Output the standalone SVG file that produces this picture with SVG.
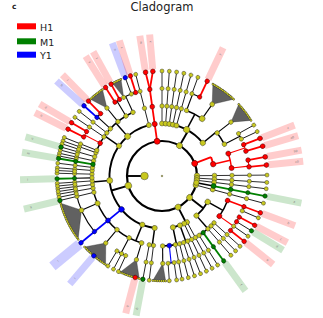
<svg xmlns="http://www.w3.org/2000/svg" width="323" height="318" viewBox="0 0 323 318">
<style>
text{font-family:"DejaVu Sans","Liberation Sans",sans-serif;fill:#222}
.y{fill:#c8c81e;stroke:#333;stroke-width:.45}
.r{fill:#f00;stroke:#300;stroke-width:.45}
.g{fill:#008000;stroke:#002000;stroke-width:.45}
.b{fill:#00f;stroke:#000030;stroke-width:.45}
line{stroke:#000;stroke-width:.8}
.arc{fill:none;stroke:#000}
.w1{stroke-width:2.2}.w2{stroke-width:1.9}.w3{stroke-width:1.5}.w4{stroke-width:1.1}.wc{stroke-width:1.8}
.rl{stroke:#f00}.gl{stroke:#008000}.bl{stroke:#00f}
.pr{fill:#f00;fill-opacity:.2}.pg{fill:#008000;fill-opacity:.2}.pb{fill:#00f;fill-opacity:.2}
.lb{font-size:3px;fill:#777}
.fan{fill:#3a3a3a;fill-opacity:.8;stroke:#222;stroke-width:.3}
.dd{fill:none;stroke:#333;stroke-width:2.5;stroke-linecap:round}
.dy{fill:none;stroke:#c8c81e;stroke-width:1.8;stroke-linecap:round}
</style>
<defs>
<g id="k1"><line x1="35" x2="105"/><circle class="y" cx="35" r="2.7"/><circle class="y" cx="52.5" r="2.4"/><circle class="y" cx="70" r="2.2"/><circle class="y" cx="87.5" r="2.1"/><circle class="y" cx="105" r="2"/></g>
<g id="k2"><line x1="52.5" x2="105"/><circle class="y" cx="52.5" r="2.5"/><circle class="y" cx="70" r="2.2"/><circle class="y" cx="87.5" r="2.1"/><circle class="y" cx="105" r="2"/></g>
<g id="k3"><line x1="70" x2="105"/><circle class="y" cx="70" r="2.2"/><circle class="y" cx="87.5" r="2.1"/><circle class="y" cx="105" r="2"/></g>
<g id="k4"><line x1="87.5" x2="105"/><circle class="y" cx="87.5" r="2.1"/><circle class="y" cx="105" r="2"/></g>
</defs>
<rect width="323" height="318" fill="#fff"/>
<text x="12" y="8.5" font-size="7.5" font-weight="bold">c</text>
<text x="162" y="10.5" font-size="11.5" text-anchor="middle">Cladogram</text>
<g id="legend">
<rect x="17" y="23.3" width="19" height="6" fill="#f00"/><text x="40" y="30.5" font-size="9.5">H1</text>
<rect x="17" y="38.3" width="19" height="6" fill="#008000"/><text x="40" y="45.5" font-size="9.5">M1</text>
<rect x="17" y="51.7" width="19" height="6" fill="#00f"/><text x="40" y="59" font-size="9.5">Y1</text>
</g>
<g transform="translate(162,176)">
<g id="shading">
<rect class="pg" x="107" y="-3.5" width="35" height="7" transform="rotate(11)"/><text class="lb" x="134" y="1" transform="rotate(11)">a</text>
<rect class="pr" x="107" y="-3.5" width="35" height="7" transform="rotate(20.5)"/><text class="lb" x="134" y="1" transform="rotate(20.5)">b</text>
<rect class="pr" x="107" y="-3.5" width="35" height="7" transform="rotate(28)"/><text class="lb" x="134" y="1" transform="rotate(28)">c</text>
<rect class="pg" x="107" y="-3.5" width="35" height="7" transform="rotate(31.5)"/><text class="lb" x="134" y="1" transform="rotate(31.5)">d</text>
<rect class="pr" x="107" y="-3.5" width="35" height="7" transform="rotate(38.5)"/><text class="lb" x="134" y="1" transform="rotate(38.5)">e</text>
<rect class="pg" x="107" y="-3.5" width="35" height="7" transform="rotate(54)"/><text class="lb" x="134" y="1" transform="rotate(54)">f</text>
<rect class="pg" x="107" y="-3.5" width="35" height="7" transform="rotate(100.5)"/><text class="lb" x="134" y="1" transform="rotate(100.5)">g</text>
<rect class="pr" x="107" y="-3.5" width="35" height="7" transform="rotate(104.8)"/><text class="lb" x="134" y="1" transform="rotate(104.8)">h</text>
<rect class="pb" x="107" y="-3.5" width="35" height="7" transform="rotate(130.5)"/><text class="lb" x="134" y="1" transform="rotate(130.5)">i</text>
<rect class="pb" x="107" y="-5" width="35" height="10" transform="rotate(140.5)"/><text class="lb" x="134" y="1" transform="rotate(140.5)">j</text>
<rect class="pg" x="107" y="-3.5" width="35" height="7" transform="rotate(166.5)"/><text class="lb" x="134" y="1" transform="rotate(166.5)">k</text>
<rect class="pg" x="107" y="-3.5" width="35" height="7" transform="rotate(178.5)"/><text class="lb" x="134" y="1" transform="rotate(178.5)">l</text>
<rect class="pg" x="107" y="-3.5" width="35" height="7" transform="rotate(189.6)"/><text class="lb" x="134" y="1" transform="rotate(189.6)">m</text>
<rect class="pg" x="107" y="-3.5" width="35" height="7" transform="rotate(196)"/><text class="lb" x="134" y="1" transform="rotate(196)">n</text>
<rect class="pr" x="107" y="-3.5" width="35" height="7" transform="rotate(206.5)"/><text class="lb" x="134" y="1" transform="rotate(206.5)">o</text>
<rect class="pr" x="107" y="-3.5" width="35" height="7" transform="rotate(210.5)"/><text class="lb" x="134" y="1" transform="rotate(210.5)">p</text>
<rect class="pb" x="107" y="-3.5" width="35" height="7" transform="rotate(222)"/><text class="lb" x="134" y="1" transform="rotate(222)">q</text>
<rect class="pr" x="107" y="-3.5" width="35" height="7" transform="rotate(225.5)"/><text class="lb" x="134" y="1" transform="rotate(225.5)">r</text>
<rect class="pr" x="107" y="-3.5" width="35" height="7" transform="rotate(237.5)"/><text class="lb" x="134" y="1" transform="rotate(237.5)">s</text>
<rect class="pr" x="107" y="-3.5" width="35" height="7" transform="rotate(241)"/><text class="lb" x="134" y="1" transform="rotate(241)">t</text>
<rect class="pb" x="107" y="-3.5" width="35" height="7" transform="rotate(249.5)"/><text class="lb" x="134" y="1" transform="rotate(249.5)">u</text>
<rect class="pr" x="107" y="-3.5" width="35" height="7" transform="rotate(252.5)"/><text class="lb" x="134" y="1" transform="rotate(252.5)">v</text>
<rect class="pr" x="107" y="-3.5" width="35" height="7" transform="rotate(261)"/><text class="lb" x="134" y="1" transform="rotate(261)">w</text>
<rect class="pr" x="107" y="-3.5" width="35" height="7" transform="rotate(265)"/><text class="lb" x="134" y="1" transform="rotate(265)">x</text>
<rect class="pr" x="107" y="-3.5" width="35" height="7" transform="rotate(295.5)"/><text class="lb" x="134" y="1" transform="rotate(295.5)">y</text>
<rect class="pr" x="107" y="-3.5" width="35" height="7" transform="rotate(339)"/><text class="lb" x="134" y="1" transform="rotate(339)">z</text>
<rect class="pr" x="107" y="-3.5" width="35" height="7" transform="rotate(343.5)"/><text class="lb" x="134" y="1" transform="rotate(343.5)">a0</text>
<rect class="pr" x="107" y="-3.5" width="35" height="7" transform="rotate(349.5)"/><text class="lb" x="134" y="1" transform="rotate(349.5)">b0</text>
<rect class="pr" x="107" y="-3.5" width="35" height="7" transform="rotate(354)"/><text class="lb" x="134" y="1" transform="rotate(354)">c0</text>
</g>
<g id="connectors">
<circle class="arc w1" r="35"/>
<circle class="arc w2" r="52.5" pathLength="360" stroke-dasharray="157.5 400" transform="rotate(98)"/>
<circle class="arc w2" r="52.5" pathLength="360" stroke-dasharray="51 400" transform="rotate(270)"/>
<circle class="arc w2" r="52.5" pathLength="360" stroke-dasharray="19.5 400" transform="rotate(29.5)"/>
<circle class="arc w2" r="52.5" pathLength="360" stroke-dasharray="16.5 400" transform="rotate(61.5)"/>
<circle class="arc w2 rl" r="52.5" pathLength="360" stroke-dasharray="8 400" transform="rotate(339)"/>
<circle class="arc w3" r="70" pathLength="360" stroke-dasharray="3.5 400" transform="rotate(97)"/>
<circle class="arc w3" r="70" pathLength="360" stroke-dasharray="138.5 400" transform="rotate(107)"/>
<circle class="arc w3" r="70" pathLength="360" stroke-dasharray="14.5 400" transform="rotate(290.5)"/>
<circle class="arc w3" r="70" pathLength="360" stroke-dasharray="12 400" transform="rotate(321)"/>
<circle class="arc w3" r="70" pathLength="360" stroke-dasharray="14.5 400" transform="rotate(20.5)"/>
<circle class="arc w3" r="70" pathLength="360" stroke-dasharray="16 400" transform="rotate(42)"/>
<circle class="arc w3" r="70" pathLength="360" stroke-dasharray="3.5 400" transform="rotate(68.5)"/>
<circle class="arc w3" r="70" pathLength="360" stroke-dasharray="14 400" transform="rotate(75.5)"/>
<circle class="arc w3 rl" r="70" pathLength="360" stroke-dasharray="12.2 400" transform="rotate(341.3)"/>
<circle class="arc w4" r="87.5" pathLength="360" stroke-dasharray="6.5 400" transform="rotate(114.5)"/>
<circle class="arc w4" r="87.5" pathLength="360" stroke-dasharray="59 400" transform="rotate(140.5)"/>
<circle class="arc w4" r="87.5" pathLength="360" stroke-dasharray="3.5 400" transform="rotate(222)"/>
<circle class="arc w4" r="87.5" pathLength="360" stroke-dasharray="8.5 400" transform="rotate(244)"/>
<circle class="arc w4" r="87.5" pathLength="360" stroke-dasharray="5.5 400" transform="rotate(290)"/>
<circle class="arc w4" r="87.5" pathLength="360" stroke-dasharray="4 400" transform="rotate(331)"/>
<circle class="arc w4" r="87.5" pathLength="360" stroke-dasharray="3 400" transform="rotate(20.5)"/>
<circle class="arc w4" r="87.5" pathLength="360" stroke-dasharray="4 400" transform="rotate(82)"/>
<circle class="arc w4 rl" r="87.5" pathLength="360" stroke-dasharray="4 400" transform="rotate(206.5)"/>
<circle class="arc w4 rl" r="87.5" pathLength="360" stroke-dasharray="3.5 400" transform="rotate(237.5)"/>
<circle class="arc w4 rl" r="87.5" pathLength="360" stroke-dasharray="4.5 400" transform="rotate(339)"/>
<circle class="arc w4 rl" r="87.5" pathLength="360" stroke-dasharray="4.5 400" transform="rotate(349.5)"/>
<circle class="arc w4 rl" r="87.5" pathLength="360" stroke-dasharray="10.5 400" transform="rotate(28)"/>
<line class="w2" x1="17.5" x2="35" transform="rotate(180)"/>
<line class="w2" x1="35" x2="52.5" transform="rotate(164)"/>
<line class="w2" x1="35" x2="52.5" transform="rotate(300)"/>
<line class="w2" x1="35" x2="52.5" transform="rotate(38)"/>
<line class="w2" x1="35" x2="52.5" transform="rotate(62.7)"/>
<line class="w3" x1="35" x2="52.5" transform="rotate(11)"/>
<line class="w2 rl" x1="35" x2="52.5" transform="rotate(339)"/>
<line class="wc rl" x1="35" x2="87.5" transform="rotate(262)"/>
<line class="wc rl" x1="87.5" x2="104.98" y2="-1.83" transform="rotate(262)"/>
<line class="wc rl" x1="87.5" x2="104.86" y2="5.5" transform="rotate(262)"/>
<line class="w3" x1="52.5" x2="70" transform="rotate(98)"/>
<line class="w3" x1="52.5" x2="70" transform="rotate(112)"/>
<line class="w3" x1="52.5" x2="70" transform="rotate(175)"/>
<line class="w3" x1="52.5" x2="70" transform="rotate(215)"/>
<line class="w3" x1="52.5" x2="70" transform="rotate(229)"/>
<line class="w3" x1="52.5" x2="70" transform="rotate(298)"/>
<line class="w3" x1="52.5" x2="70" transform="rotate(321)"/>
<line class="w3" x1="52.5" x2="70" transform="rotate(29.5)"/>
<line class="w3" x1="52.5" x2="70" transform="rotate(49)"/>
<line class="w3" x1="52.5" x2="70" transform="rotate(70)"/>
<line class="w3" x1="52.5" x2="70" transform="rotate(78)"/>
<line class="w3 rl" x1="52.5" x2="70" transform="rotate(347)"/>
<line class="wc bl" x1="52.5" x2="105" transform="rotate(140.5)"/>
<line class="wc gl" x1="52.5" x2="105" transform="rotate(11)"/>
<line class="w4" x1="70" x2="87.5" transform="rotate(107)"/>
<line class="w4" x1="70" x2="87.5" transform="rotate(118)"/>
<line class="w4" x1="70" x2="87.5" transform="rotate(130)"/>
<line class="w4" x1="70" x2="87.5" transform="rotate(157)"/>
<line class="w4" x1="70" x2="87.5" transform="rotate(178.5)"/>
<line class="w4 rl" x1="70" x2="87.5" transform="rotate(208)"/>
<line class="w4" x1="70" x2="87.5" transform="rotate(222.5)"/>
<line class="w4" x1="70" x2="87.5" transform="rotate(231)"/>
<line class="w4" x1="70" x2="87.5" transform="rotate(239)"/>
<line class="w4" x1="70" x2="87.5" transform="rotate(245.5)"/>
<line class="w4" x1="70" x2="87.5" transform="rotate(290.5)"/>
<line class="w4" x1="70" x2="87.5" transform="rotate(305)"/>
<line class="w4" x1="70" x2="87.5" transform="rotate(322)"/>
<line class="w4" x1="70" x2="87.5" transform="rotate(333)"/>
<line class="w4 rl" x1="70" x2="87.5" transform="rotate(35)"/>
<line class="w4 bl" x1="70" x2="87.5" transform="rotate(84)"/>
<line class="w4" x1="70" x2="87.5" transform="rotate(89.5)"/>
<line class="w4 rl" x1="70" x2="87.5" transform="rotate(341.3)"/>
<line class="w4 rl" x1="70" x2="87.5" transform="rotate(353.5)"/>
<line class="wc rl" x1="70" x2="105" transform="rotate(20.5)"/>
<line class="wc gl" x1="70" x2="105" transform="rotate(54)"/>
<line class="wc gl" x1="70" x2="105" transform="rotate(189.6)"/>
<line class="wc gl" x1="87.5" x2="105" transform="rotate(178.5)"/>
<line class="wc rl" x1="87.5" x2="105" transform="rotate(206.5)"/>
<line class="wc rl" x1="87.5" x2="105" transform="rotate(210.5)"/>
<line class="wc bl" x1="87.5" x2="105" transform="rotate(222)"/>
<line class="wc rl" x1="87.5" x2="105" transform="rotate(225.5)"/>
<line class="wc rl" x1="87.5" x2="105" transform="rotate(237.5)"/>
<line class="wc rl" x1="87.5" x2="105" transform="rotate(241)"/>
<line x1="87.5" x2="105" transform="rotate(249.5)"/>
<line class="wc rl" x1="87.5" x2="105" transform="rotate(252.5)"/>
<line class="wc rl" x1="87.5" x2="105" transform="rotate(295.5)"/>
<line class="wc rl" x1="87.5" x2="105" transform="rotate(339)"/>
<line class="wc rl" x1="87.5" x2="105" transform="rotate(343.5)"/>
<line class="wc rl" x1="87.5" x2="105" transform="rotate(349.5)"/>
<line class="wc rl" x1="87.5" x2="105" transform="rotate(354)"/>
<line class="wc rl" x1="87.5" x2="105" transform="rotate(28)"/>
<line x1="87.5" x2="105" transform="rotate(31.5)"/>
<line class="wc rl" x1="87.5" x2="105" transform="rotate(38.5)"/>
</g>
<g id="fans">
<polygon class="fan" points="87.5,0 101.9,-25.4 104.2,-12.8 105,0 104.7,7.3 104,14.6" transform="rotate(157)"/>
<polygon class="fan" points="87.5,0 104.1,-13.7 104.8,-6.9 105,0 104.8,6.9 104.1,13.7" transform="rotate(130)"/>
<polygon class="fan" points="87.5,0 104.7,-8.2 105,0 104.9,5.5 104.3,11.9" transform="rotate(107)"/>
<polygon class="fan" points="87.5,0 104.96,-2.75 105,0 104.88,5.04 104.5,10.1" transform="rotate(89.5)"/>
<polygon class="fan" points="87.5,0 104.4,-11 104.9,-5.5 105,0 104.7,7.3 104,14.6" transform="rotate(305)"/>
<polygon class="fan" points="87.5,0 104.6,-9.2 105,0 104.9,5.5 104.4,11" transform="rotate(322)"/>
<polygon class="fan" points="87.5,0 104.7,-7.3 105,0 104.7,8.2" transform="rotate(231)"/>
<polygon class="fan" points="87.5,0 104.94,-3.66 105,0 104.86,5.5" transform="rotate(244)"/>
<circle class="dd" r="105" pathLength="360" stroke-dasharray="0 1.1 0 1.1 0 1.1 0 1.1 0 1.1 0 1.1 0 1.1 0 1.1 0 1.1 0 1.1 0 1.1 0 1.1 0 1.1 0 1.1 0 1.1 0 1.1 0 1.1 0 1.1 0 1.1 0 1.1 0 400" transform="rotate(143)"/>
<circle class="dy" r="105" pathLength="360" stroke-dasharray="0 1.1 0 1.1 0 1.1 0 1.1 0 1.1 0 1.1 0 1.1 0 1.1 0 1.1 0 1.1 0 1.1 0 1.1 0 1.1 0 1.1 0 1.1 0 1.1 0 1.1 0 1.1 0 1.1 0 1.1 0 400" transform="rotate(143)"/>
<circle class="dd" r="105" pathLength="360" stroke-dasharray="0 1.15 0 1.15 0 1.15 0 1.15 0 1.15 0 1.15 0 1.15 0 1.15 0 1.15 0 1.15 0 1.15 0 1.15 0 1.15 0 400" transform="rotate(122.5)"/>
<circle class="dy" r="105" pathLength="360" stroke-dasharray="0 1.15 0 1.15 0 1.15 0 1.15 0 1.15 0 1.15 0 1.15 0 1.15 0 1.15 0 1.15 0 1.15 0 1.15 0 1.15 0 400" transform="rotate(122.5)"/>
<circle class="dd" r="105" pathLength="360" stroke-dasharray="0 1.1 0 1.1 0 1.1 0 1.1 0 1.1 0 1.1 0 1.1 0 1.1 0 1.1 0 1.1 0 400" transform="rotate(102.5)"/>
<circle class="dy" r="105" pathLength="360" stroke-dasharray="0 1.1 0 1.1 0 1.1 0 1.1 0 1.1 0 1.1 0 1.1 0 1.1 0 1.1 0 1.1 0 400" transform="rotate(102.5)"/>
<circle class="dd" r="105" pathLength="360" stroke-dasharray="0 1.17 0 1.17 0 1.17 0 1.17 0 1.17 0 1.17 0 400" transform="rotate(88)"/>
<circle class="dy" r="105" pathLength="360" stroke-dasharray="0 1.17 0 1.17 0 1.17 0 1.17 0 1.17 0 1.17 0 400" transform="rotate(88)"/>
<circle class="dd" r="105" pathLength="360" stroke-dasharray="0 1.08 0 1.08 0 1.08 0 1.08 0 1.08 0 1.08 0 1.08 0 1.08 0 1.08 0 1.08 0 1.08 0 1.08 0 1.08 0 400" transform="rotate(299)"/>
<circle class="dy" r="105" pathLength="360" stroke-dasharray="0 1.08 0 1.08 0 1.08 0 1.08 0 1.08 0 1.08 0 1.08 0 1.08 0 1.08 0 1.08 0 1.08 0 1.08 0 1.08 0 400" transform="rotate(299)"/>
<circle class="dd" r="105" pathLength="360" stroke-dasharray="0 1.1 0 1.1 0 1.1 0 1.1 0 1.1 0 1.1 0 1.1 0 1.1 0 1.1 0 1.1 0 400" transform="rotate(317)"/>
<circle class="dy" r="105" pathLength="360" stroke-dasharray="0 1.1 0 1.1 0 1.1 0 1.1 0 1.1 0 1.1 0 1.1 0 1.1 0 1.1 0 1.1 0 400" transform="rotate(317)"/>
<circle class="dd" r="105" pathLength="360" stroke-dasharray="0 1.06 0 1.06 0 1.06 0 1.06 0 1.06 0 1.06 0 1.06 0 1.06 0 400" transform="rotate(227)"/>
<circle class="dy" r="105" pathLength="360" stroke-dasharray="0 1.06 0 1.06 0 1.06 0 1.06 0 1.06 0 1.06 0 1.06 0 1.06 0 400" transform="rotate(227)"/>
<circle class="dd" r="105" pathLength="360" stroke-dasharray="0 1 0 1 0 1 0 1 0 1 0 400" transform="rotate(242)"/>
<circle class="dy" r="105" pathLength="360" stroke-dasharray="0 1 0 1 0 1 0 1 0 1 0 400" transform="rotate(242)"/>
</g>
<g id="chains">
<use href="#k1" transform="rotate(359.5)"/><use href="#k1" transform="rotate(3.5)"/><use href="#k1" transform="rotate(7)"/><use href="#k1" transform="rotate(15)"/>
<use href="#k2" transform="rotate(255.5)"/><use href="#k2" transform="rotate(270)"/><use href="#k2" transform="rotate(274)"/><use href="#k2" transform="rotate(278)"/><use href="#k2" transform="rotate(282)"/><use href="#k2" transform="rotate(286)"/><use href="#k2" transform="rotate(61.5)"/><use href="#k2" transform="rotate(65)"/>
<use href="#k3" transform="rotate(97)"/><use href="#k3" transform="rotate(100.5)"/><use href="#k3" transform="rotate(166.5)"/><use href="#k3" transform="rotate(170)"/><use href="#k3" transform="rotate(173)"/><use href="#k3" transform="rotate(176)"/><use href="#k3" transform="rotate(181.5)"/><use href="#k3" transform="rotate(184.5)"/><use href="#k3" transform="rotate(187)"/><use href="#k3" transform="rotate(192.5)"/><use href="#k3" transform="rotate(196)"/><use href="#k3" transform="rotate(199.5)"/><use href="#k3" transform="rotate(201.5)"/><use href="#k3" transform="rotate(214)"/><use href="#k3" transform="rotate(218)"/><use href="#k3" transform="rotate(68.5)"/><use href="#k3" transform="rotate(72)"/><use href="#k3" transform="rotate(75.5)"/><use href="#k3" transform="rotate(79)"/><use href="#k3" transform="rotate(42)"/><use href="#k3" transform="rotate(45.5)"/><use href="#k3" transform="rotate(49)"/><use href="#k3" transform="rotate(58)"/>
<use href="#k4" transform="rotate(114.5)"/><use href="#k4" transform="rotate(117.5)"/><use href="#k4" transform="rotate(121)"/><use href="#k4" transform="rotate(290)"/><use href="#k4" transform="rotate(331)"/><use href="#k4" transform="rotate(335)"/><use href="#k4" transform="rotate(23.5)"/><use href="#k4" transform="rotate(35)"/><use href="#k4" transform="rotate(82)"/><use href="#k4" transform="rotate(86)"/>
<use href="#k4" transform="rotate(168.3)"/><use href="#k4" transform="rotate(171.5)"/><use href="#k4" transform="rotate(174.5)"/><use href="#k4" transform="rotate(183)"/><use href="#k4" transform="rotate(191)"/><use href="#k4" transform="rotate(194.3)"/><use href="#k4" transform="rotate(197.8)"/>
</g>
<g id="nodes">
<circle class="y" r=".8"/>
<circle class="y" cx="17.5" r="3.8" transform="rotate(180)"/>
<g id="phyla">
<circle class="y" cx="35" r="3.3" transform="rotate(164)"/><circle class="r" cx="35" r="3" transform="rotate(262)"/><circle class="y" cx="35" r="3" transform="rotate(300)"/><circle class="r" cx="35" r="3" transform="rotate(339)"/><circle class="y" cx="35" r="2.7" transform="rotate(11)"/><circle class="y" cx="35" r="3" transform="rotate(38)"/><circle class="y" cx="35" r="3" transform="rotate(62.7)"/>
</g>
<g id="classes">
<circle class="y" cx="52.5" r="2.6" transform="rotate(98)"/><circle class="y" cx="52.5" r="2.6" transform="rotate(112)"/><circle class="b" cx="52.5" r="2.8" transform="rotate(140.5)"/><circle class="y" cx="52.5" r="3" transform="rotate(175)"/><circle class="y" cx="52.5" r="2.6" transform="rotate(215)"/><circle class="y" cx="52.5" r="3" transform="rotate(229)"/><circle class="r" cx="52.5" r="2.6" transform="rotate(262)"/><circle class="y" cx="52.5" r="3.2" transform="rotate(298)"/><circle class="y" cx="52.5" r="2.7" transform="rotate(321)"/><circle class="r" cx="52.5" r="2.7" transform="rotate(347)"/><circle class="g" cx="52.5" r="2.5" transform="rotate(11)"/><circle class="y" cx="52.5" r="2.8" transform="rotate(29.5)"/><circle class="y" cx="52.5" r="2.6" transform="rotate(49)"/><circle class="y" cx="52.5" r="2.5" transform="rotate(70)"/><circle class="y" cx="52.5" r="2.6" transform="rotate(78)"/>
</g>
<g id="orders">
<circle class="y" cx="70" r="2.4" transform="rotate(107)"/><circle class="y" cx="70" r="2.3" transform="rotate(118)"/><circle class="y" cx="70" r="2.3" transform="rotate(130)"/><circle class="b" cx="70" r="2.4" transform="rotate(140.5)"/><circle class="y" cx="70" r="2.6" transform="rotate(157)"/><circle class="y" cx="70" r="2.2" transform="rotate(178.5)"/><circle class="g" cx="70" r="2.3" transform="rotate(189.6)"/><circle class="r" cx="70" r="2.4" transform="rotate(208)"/><circle class="y" cx="70" r="2.3" transform="rotate(222.5)"/><circle class="y" cx="70" r="2.3" transform="rotate(231)"/><circle class="y" cx="70" r="2.3" transform="rotate(239)"/><circle class="y" cx="70" r="2.3" transform="rotate(245.5)"/><circle class="r" cx="70" r="2.4" transform="rotate(262)"/><circle class="y" cx="70" r="2.3" transform="rotate(290.5)"/><circle class="y" cx="70" r="2.9" transform="rotate(305)"/><circle class="y" cx="70" r="2.3" transform="rotate(322)"/><circle class="y" cx="70" r="2.3" transform="rotate(333)"/><circle class="r" cx="70" r="2.5" transform="rotate(341.3)"/><circle class="r" cx="70" r="2.5" transform="rotate(353.5)"/><circle class="g" cx="70" r="2.3" transform="rotate(11)"/><circle class="r" cx="70" r="2.4" transform="rotate(20.5)"/><circle class="r" cx="70" r="2.5" transform="rotate(35)"/><circle class="g" cx="70" r="2.2" transform="rotate(54)"/><circle class="b" cx="70" r="2.4" transform="rotate(84)"/><circle class="y" cx="70" r="2.3" transform="rotate(89.5)"/>
</g>
<g id="families">
<circle class="y" cx="87.5" r="2.2" transform="rotate(107)"/><circle class="y" cx="87.5" r="2.2" transform="rotate(130)"/><circle class="b" cx="87.5" r="2.2" transform="rotate(140.5)"/><circle class="y" cx="87.5" r="2.4" transform="rotate(157)"/><circle class="g" cx="87.5" r="2.1" transform="rotate(178.5)"/><circle class="g" cx="87.5" r="2.1" transform="rotate(189.6)"/><circle class="r" cx="87.5" r="2.2" transform="rotate(206.5)"/><circle class="r" cx="87.5" r="2.2" transform="rotate(210.5)"/><circle class="b" cx="87.5" r="2.2" transform="rotate(222)"/><circle class="r" cx="87.5" r="2.2" transform="rotate(225.5)"/><circle class="y" cx="87.5" r="2.2" transform="rotate(231)"/><circle class="r" cx="87.5" r="2.2" transform="rotate(237.5)"/><circle class="r" cx="87.5" r="2.2" transform="rotate(241)"/><circle class="y" cx="87.5" r="2.1" transform="rotate(244)"/><circle class="y" cx="87.5" r="2.1" transform="rotate(249.5)"/><circle class="r" cx="87.5" r="2.2" transform="rotate(252.5)"/><circle class="r" cx="87.5" r="2.3" transform="rotate(262)"/><circle class="r" cx="87.5" r="2.2" transform="rotate(295.5)"/><circle class="y" cx="87.5" r="2.4" transform="rotate(305)"/><circle class="y" cx="87.5" r="2.2" transform="rotate(322)"/><circle class="r" cx="87.5" r="2.3" transform="rotate(339)"/><circle class="r" cx="87.5" r="2.3" transform="rotate(343.5)"/><circle class="r" cx="87.5" r="2.3" transform="rotate(349.5)"/><circle class="r" cx="87.5" r="2.3" transform="rotate(354)"/><circle class="g" cx="87.5" r="2.1" transform="rotate(11)"/><circle class="r" cx="87.5" r="2.2" transform="rotate(20.5)"/><circle class="r" cx="87.5" r="2.2" transform="rotate(28)"/><circle class="r" cx="87.5" r="2.2" transform="rotate(31.5)"/><circle class="r" cx="87.5" r="2.2" transform="rotate(38.5)"/><circle class="g" cx="87.5" r="2.1" transform="rotate(54)"/><circle class="y" cx="87.5" r="2.2" transform="rotate(89.5)"/>
</g>
<g id="genera">
<circle class="g" cx="105" r="2.2" transform="rotate(100.5)"/><circle class="r" cx="105" r="2.3" transform="rotate(104.8)"/><circle class="b" cx="105" r="2.3" transform="rotate(130.5)"/><circle class="b" cx="105" r="2.3" transform="rotate(140.5)"/><circle class="g" cx="105" r="2.2" transform="rotate(166.5)"/><circle class="g" cx="105" r="2.2" transform="rotate(178.5)"/><circle class="g" cx="105" r="2.2" transform="rotate(189.6)"/><circle class="g" cx="105" r="2.2" transform="rotate(196)"/><circle class="r" cx="105" r="2.3" transform="rotate(206.5)"/><circle class="r" cx="105" r="2.3" transform="rotate(210.5)"/><circle class="b" cx="105" r="2.3" transform="rotate(222)"/><circle class="r" cx="105" r="2.3" transform="rotate(225.5)"/><circle class="r" cx="105" r="2.3" transform="rotate(237.5)"/><circle class="r" cx="105" r="2.3" transform="rotate(241)"/><circle class="b" cx="105" r="2.3" transform="rotate(249.5)"/><circle class="r" cx="105" r="2.3" transform="rotate(252.5)"/><circle class="r" cx="105" r="2.4" transform="rotate(261)"/><circle class="r" cx="105" r="2.4" transform="rotate(265)"/><circle class="r" cx="105" r="2.3" transform="rotate(295.5)"/><circle class="r" cx="105" r="2.4" transform="rotate(339)"/><circle class="r" cx="105" r="2.4" transform="rotate(343.5)"/><circle class="r" cx="105" r="2.4" transform="rotate(349.5)"/><circle class="r" cx="105" r="2.4" transform="rotate(354)"/><circle class="g" cx="105" r="2.2" transform="rotate(11)"/><circle class="r" cx="105" r="2.3" transform="rotate(20.5)"/><circle class="r" cx="105" r="2.3" transform="rotate(28)"/><circle class="g" cx="105" r="2.2" transform="rotate(31.5)"/><circle class="r" cx="105" r="2.3" transform="rotate(38.5)"/><circle class="g" cx="105" r="2.2" transform="rotate(54)"/>
</g>
</g>
</g>
</svg>
